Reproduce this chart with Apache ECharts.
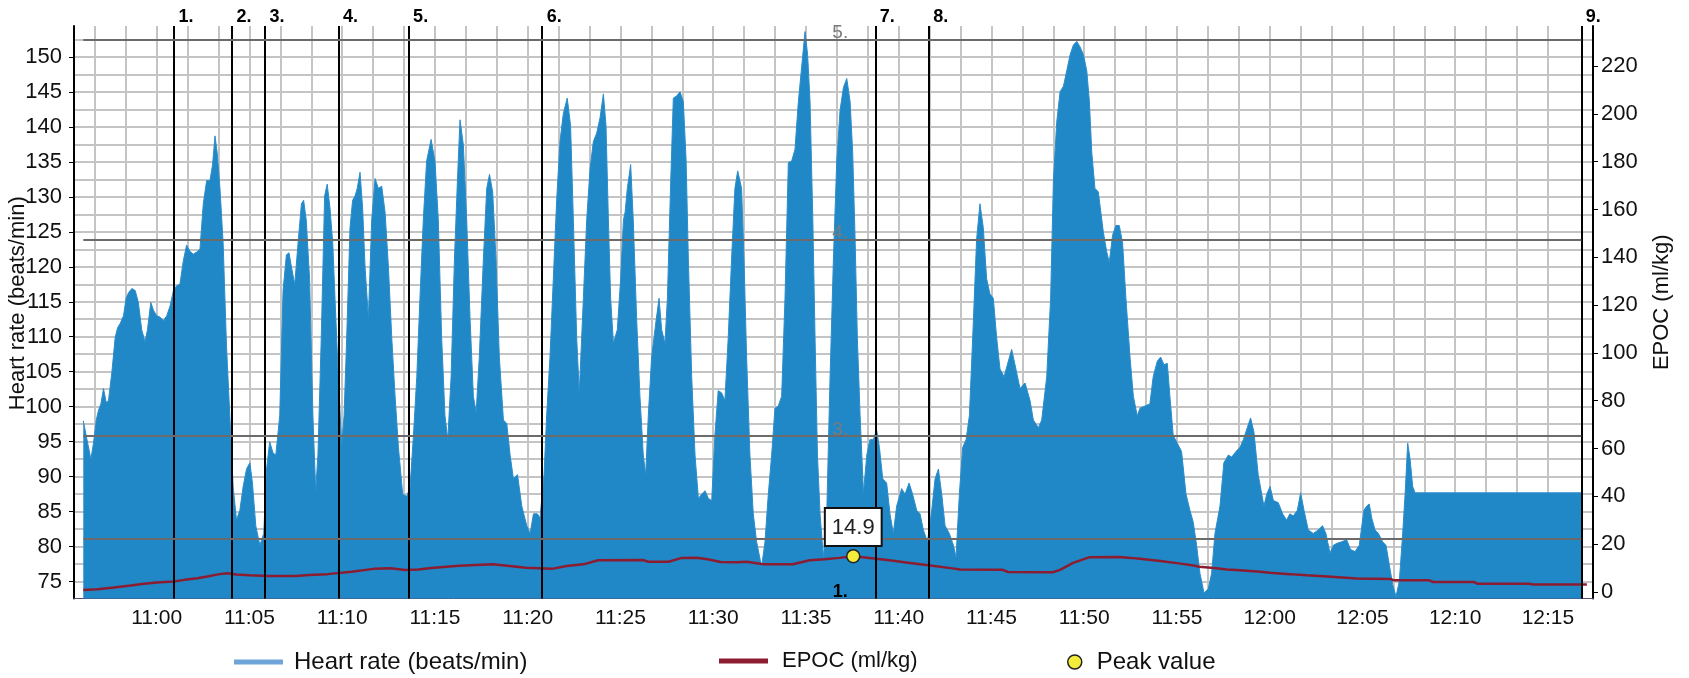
<!DOCTYPE html>
<html>
<head>
<meta charset="utf-8">
<script src="https://cdn.jsdelivr.net/npm/echarts@6.0.0/dist/echarts.min.js"></script>
<style>
html, body { margin: 0; padding: 0; background: #fff; }
#chart { width: 1689px; height: 678px; }
</style>
</head>
<body>
<div id="chart"></div>
<script>
// time is in minutes after 11:00
var hrTime = [-3.96, -3.76, -3.55, -3.41, -3.26, -3.14, -3.01, -2.87, -2.72, -2.60, -2.42, -2.24, -2.11, -1.97, -1.79, -1.65, -1.52, -1.34, -1.16, -0.99, -0.81, -0.63, -0.50, -0.32, -0.18, 0, 0.18, 0.36, 0.54, 0.72, 0.90, 1.08, 1.25, 1.43, 1.61, 1.79, 1.97, 2.15, 2.33, 2.51, 2.69, 2.87, 3.01, 3.14, 3.26, 3.41, 3.58, 3.76, 3.94, 4.12, 4.30, 4.48, 4.66, 4.84, 5.02, 5.16, 5.34, 5.56, 5.65, 5.77, 5.91, 6.09, 6.27, 6.42, 6.63, 6.81, 6.99, 7.13, 7.26, 7.44, 7.62, 7.80, 7.92, 8.06, 8.24, 8.42, 8.57, 8.69, 8.87, 9.05, 9.19,
  9.34, 9.49, 9.61, 9.79, 9.97, 10.10, 10.24, 10.42, 10.56, 10.69, 10.81, 10.96, 11.10, 11.23, 11.41, 11.59, 11.77, 11.95, 12.13, 12.31, 12.49, 12.67, 12.85, 13.03, 13.26, 13.48, 13.66, 13.84, 14.02, 14.19, 14.37, 14.55, 14.79, 15.00, 15.18, 15.36, 15.54, 15.69, 15.87, 16.05, 16.21, 16.35, 16.53, 16.71, 16.89, 17.07, 17.22, 17.39, 17.61, 17.79, 17.94, 18.11, 18.29, 18.47, 18.69, 18.87, 19.05, 19.23, 19.45, 19.68, 19.95, 20.13, 20.31, 20.52, 20.66, 20.88, 21.02, 21.20, 21.38, 21.56, 21.74, 21.92, 22.13, 22.31, 22.46, 22.64, 22.78, 23.00, 23.18,
  23.36, 23.54, 23.72, 23.90, 24.08, 24.22, 24.35, 24.47, 24.62, 24.83, 25.01, 25.16, 25.25, 25.37, 25.55, 25.69, 25.87, 26.05, 26.23, 26.36, 26.50, 26.68, 26.91, 27.08, 27.22, 27.40, 27.53, 27.71, 27.85, 28.03, 28.21, 28.39, 28.54, 28.66, 28.84, 29.02, 29.20, 29.38, 29.56, 29.74, 29.92, 30.09, 30.27, 30.45, 30.63, 30.81, 30.99, 31.17, 31.32, 31.53, 31.66, 31.80, 31.98, 32.16, 32.34, 32.61, 32.79, 32.97, 33.15, 33.33, 33.51, 33.69, 33.87, 34.05, 34.23, 34.41, 34.59, 34.77, 34.95, 35.09, 35.22, 35.37, 35.49, 35.62, 35.76, 35.94, 36.12, 36.30, 36.48, 36.66, 36.84,
  37.02, 37.20, 37.38, 37.52, 37.65, 37.77, 37.92, 38.10, 38.28, 38.45, 38.63, 38.81, 38.96, 39.14, 39.35, 39.53, 39.71, 39.89, 40.16, 40.34, 40.56, 40.75, 40.97, 41.15, 41.33, 41.55, 41.78, 41.96, 42.14, 42.32, 42.50, 42.73, 42.95, 43.09, 43.27, 43.45, 43.63, 43.81, 43.99, 44.20, 44.38, 44.56, 44.74, 44.92, 45.10, 45.28, 45.46, 45.68, 45.91, 46.09, 46.27, 46.54, 46.81, 47.08, 47.26, 47.53, 47.71, 47.98, 48.19, 48.34, 48.52, 48.70, 48.88, 49.06, 49.24, 49.42, 49.60, 49.78, 49.96, 50.14, 50.28, 50.41, 50.58, 50.76,
  51.03, 51.21, 51.35, 51.53, 51.71, 51.89, 52.07, 52.25, 52.47, 52.65, 52.86, 53.01, 53.27, 53.54, 53.72, 53.94, 54.12, 54.30, 54.48, 54.62, 54.80, 55.02, 55.25, 55.49, 55.70, 55.88, 56.06, 56.24, 56.46, 56.69, 56.87, 57.05, 57.32, 57.53, 57.77, 57.95, 58.18, 58.40, 58.58, 58.79, 58.97, 59.15, 59.38, 59.69, 59.84, 60.02, 60.20, 60.46, 60.70, 60.91, 61.09, 61.27, 61.49, 61.67, 61.85, 62.08, 62.35, 62.62, 62.85, 63.03, 63.25, 63.43, 63.64, 63.88, 64.15, 64.36, 64.60, 64.83,
  65.08, 65.23, 65.37, 65.50, 65.68, 65.86, 66.09, 66.27, 66.45, 66.63, 66.81, 66.99, 67.17, 67.30, 67.44, 67.57, 67.71, 67.84, 72.3, 76.8];
var hrBpm = [98.0, 95.3, 92.5, 94.8, 98.1, 99.5, 100.4, 102.6, 100.6, 100.9, 104.9, 109.9, 111.3, 111.9, 113.0, 115.5, 116.3, 116.9, 116.6, 114.9, 111.0, 109.3, 111.0, 114.9, 113.8, 113.0, 112.8, 112.3, 113.0, 114.4, 116.6, 117.3, 117.5, 120.8, 123.1, 122.2, 121.8, 122.1, 122.5, 129.0, 132.3, 132.3, 134.6, 138.7, 136.3, 131.2, 123.4, 108.8, 98.7, 88.6, 83.8, 85.2, 88.6, 91.1, 92.0, 89.1, 83.0, 80.2, 80.2, 81.9, 90.8, 95.0, 93.4, 93.1, 98.7, 116.6, 121.7, 122.0, 120.0, 117.5, 123.4, 129.0, 129.5, 126.7, 118.3, 98.7, 88.0, 93.1, 109.9, 130.1, 131.8,
  128.4, 123.4, 115.5, 104.3, 94.5, 98.7, 109.9, 125.6, 129.5, 130.1, 131.2, 133.5, 128.4, 120.0, 112.7, 126.7, 132.6, 131.2, 131.5, 127.8, 120.0, 109.9, 101.5, 94.2, 87.5, 87.2, 88.6, 95.9, 104.3, 115.5, 126.7, 135.1, 138.2, 135.1, 126.7, 109.9, 98.7, 95.3, 104.3, 121.1, 132.3, 141.0, 137.4, 126.7, 112.7, 101.5, 99.2, 107.1, 121.1, 131.2, 133.2, 130.7, 121.1, 107.1, 98.1, 97.6, 93.1, 89.7, 90.3, 85.8, 83.0, 81.9, 84.7, 84.7, 84.1, 90.3, 98.7, 107.1, 118.3, 129.5, 137.9, 141.9, 144.1, 140.2, 126.7, 109.9, 102.0, 115.5, 126.7,
  134.0, 137.9, 139.1, 141.3, 144.7, 140.2, 126.7, 115.5, 109.1, 111.0, 118.3, 126.7, 127.8, 131.2, 134.6, 126.7, 112.7, 101.5, 93.1, 90.3, 98.7, 107.1, 112.1, 115.5, 111.0, 109.1, 115.5, 132.3, 144.1, 144.4, 145.0, 143.6, 135.1, 121.1, 104.3, 93.1, 86.9, 87.5, 88.0, 86.9, 86.6, 95.9, 102.3, 102.0, 100.9, 109.9, 121.1, 131.2, 133.7, 131.2, 121.1, 107.1, 93.1, 84.7, 80.7, 77.1, 80.7, 87.5, 93.1, 99.8, 100.1, 101.5, 115.5, 134.9, 135.1, 136.8, 143.6, 148.6, 153.6, 150.3, 143.6, 126.7, 109.9, 93.1, 84.7, 78.5, 84.7, 104.3, 121.1, 135.1, 142.4,
  145.6, 146.9, 143.6, 136.3, 123.9, 109.9, 98.7, 87.7, 93.1, 95.3, 95.3, 96.7, 94.2, 89.7, 89.1, 84.7, 81.9, 85.8, 88.3, 87.5, 89.1, 87.5, 85.2, 84.7, 82.4, 80.7, 85.2, 89.7, 91.1, 87.5, 83.0, 81.9, 80.2, 78.5, 87.5, 94.2, 95.3, 98.7, 109.9, 123.9, 129.0, 125.6, 118.3, 116.1, 115.5, 109.9, 105.4, 104.3, 106.5, 108.2, 106.0, 102.6, 103.4, 100.9, 98.1, 97.0, 98.1, 104.3, 115.5, 132.3, 140.7, 145.0, 145.8, 148.0, 150.3, 151.7, 152.2, 151.4, 150.3, 148.0, 143.6, 136.3, 131.2, 130.7,
  125.0, 122.2, 120.6, 124.5, 125.9, 125.9, 123.4, 115.5, 107.1, 101.5, 98.7, 99.8, 100.1, 100.4, 104.3, 106.5, 107.1, 106.0, 106.2, 101.5, 95.9, 94.8, 93.6, 87.5, 85.2, 83.5, 80.2, 76.2, 73.4, 74.0, 76.2, 81.9, 85.8, 92.0, 93.1, 92.8, 93.6, 94.2, 95.3, 97.0, 98.4, 96.4, 90.3, 85.8, 87.5, 88.6, 86.6, 86.3, 84.7, 83.8, 84.7, 84.4, 85.2, 87.7, 85.2, 82.4, 81.9, 82.4, 83.0, 81.9, 79.1, 80.2, 80.5, 80.7, 81.0, 79.6, 79.3, 80.2,
  85.2, 85.8, 86.1, 84.1, 82.4, 81.9, 80.7, 80.2, 77.4, 74.6, 72.9, 75.1, 81.9, 87.5, 94.8, 92.5, 88.6, 87.7, 87.7, 87.7];

var epocTime = [-3.96, -3.2, -2.3, -1.4, -0.8, 0, 0.9, 1.5, 2.2, 2.8, 3.3, 3.8, 4.3, 5.0, 6.0, 7.5, 8.2, 9.2, 10.5, 11.7, 12.6, 13.4, 14.1, 14.8, 16.3, 18.1, 18.9, 19.9, 21.3, 22.1, 23.0, 23.8, 26.2, 26.5, 27.6, 28.3, 29.1, 29.7, 30.4, 31.3, 31.8, 32.7, 34.3, 35.2, 36.0, 36.8, 37.55, 38.3, 38.8, 39.5, 40.4, 41.7, 43.0, 43.3, 45.6, 45.9, 48.3, 48.7, 49.4, 50.3, 51.9, 52.5, 53.0, 54.1, 55.2, 55.9, 56.2, 57.0, 57.7, 58.4, 59.5, 60.0, 61.1, 62.0, 63.1, 64.7, 66.5, 66.7, 68.6, 68.8, 71.0, 71.2, 74.0, 74.2, 77.1];
var epocValue = [0.8, 1.1, 1.8, 2.6, 3.3, 3.9, 4.3, 5.0, 5.7, 6.5, 7.3, 7.8, 7.2, 6.9, 6.6, 6.6, 7.0, 7.4, 8.4, 9.6, 9.9, 9.1, 9.3, 10.0, 10.9, 11.5, 10.9, 10.1, 9.6, 10.8, 11.5, 13.2, 13.3, 12.6, 12.6, 14.2, 14.3, 13.6, 12.5, 12.4, 12.6, 11.5, 11.5, 13.2, 13.6, 14.2, 14.9, 14.3, 13.8, 13.2, 12.3, 11.0, 9.7, 9.3, 9.2, 8.3, 8.2, 9.2, 12.1, 14.5, 14.6, 14.2, 13.8, 12.9, 11.8, 11.0, 10.5, 10.0, 9.3, 9.0, 8.4, 8.0, 7.4, 6.9, 6.4, 5.6, 5.4, 4.8, 4.8, 4.1, 4.1, 3.4, 3.4, 3.1, 3.1];

var peakTime = [37.55];
var peakEpoc = [14.9];

var lapTimes = [0.93, 4.06, 5.84, 9.8, 13.58, 20.78, 38.74, 41.62, 76.8];
var lapNames = ['1.', '2.', '3.', '4.', '5.', '6.', '7.', '8.', '9.'];

var zoneBpm = [152.5, 123.9, 95.8, 81.1, 72.7];
var zoneNames = ['5.', '4.', '3.', '2.', '1.'];

var timeTicks = [0, 5, 10, 15, 20, 25, 30, 35, 40, 45, 50, 55, 60, 65, 70, 75];
var bpmTicks = [75, 80, 85, 90, 95, 100, 105, 110, 115, 120, 125, 130, 135, 140, 145, 150];
var epocTicks = [0, 20, 40, 60, 80, 100, 120, 140, 160, 180, 200, 220];

// grid lines: every 100 s and every 2.5 bpm
var gridTimes = [];
for (var g = 1; g <= 48; g++) gridTimes.push(-5 + g * 5 / 3);
var gridBpm = [];
for (var b = 0; b <= 31; b++) gridBpm.push(75 + b * 2.5);

function clock(t) {
  var h = 11 + Math.floor(t / 60);
  var m = Math.round(t - Math.floor(t / 60) * 60);
  return h + ':' + (m < 10 ? '0' + m : m);
}

var chart = echarts.init(document.getElementById('chart'));

var hrData = hrTime.map(function (t, i) { return [t, hrBpm[i]]; });
var epocData = epocTime.map(function (t, i) { return [t, epocValue[i]]; });
var peakData = peakTime.map(function (t, i) { return [t, peakEpoc[i]]; });
var hrStart = hrTime[0];
var hrEnd = hrTime[hrTime.length - 1];

var lapLines = lapTimes.map(function (t, i) {
  return { xAxis: t, name: lapNames[i] };
});
var zoneLines = zoneBpm.map(function (y, i) {
  var first = { coord: [hrStart, y], name: zoneNames[i] };
  if (i === zoneBpm.length - 1) {
    first.lineStyle = { color: 'rgba(0,0,0,0)' };
    first.label = { color: '#000', fontWeight: 'bold', fontSize: 18 };
  }
  return [first, { coord: [hrEnd, y] }];
});

var gray = '#c4c4c4';

var option = {
  animation: false,
  textStyle: { fontFamily: 'Liberation Sans' },
  grid: { left: 74, right: 96, top: 26, bottom: 79.5, containLabel: false, outerBoundsMode: 'none' },
  legend: [
    {
      left: 229, top: 645, itemWidth: 49, itemHeight: 5,
      textStyle: { fontSize: 24, color: '#111', padding: [0, 0, 0, 6] },
      data: [{ name: 'Heart rate (beats/min)', icon: 'rect', itemStyle: { color: '#6fa4d9' } }]
    },
    {
      left: 714, top: 645, itemWidth: 49, itemHeight: 5,
      textStyle: { fontSize: 22, color: '#111', padding: [0, 0, 0, 9] },
      data: [{ name: 'EPOC (ml/kg)', icon: 'rect', itemStyle: { color: '#8c1c30' } }]
    },
    {
      left: 1062, top: 645, itemWidth: 14, itemHeight: 14,
      textStyle: { fontSize: 24, color: '#111', padding: [0, 0, 0, 10] },
      data: [{ name: 'Peak value', icon: 'circle', itemStyle: { color: '#f4ec3b', borderColor: '#222', borderWidth: 1.5, opacity: 1 } }]
    }
  ],
  xAxis: {
    type: 'value', min: -4.46, max: 77.43,
    axisLine: { onZero: false, lineStyle: { color: '#5b4a78', width: 1 } },
    axisTick: { show: false, customValues: gridTimes },
    axisLabel: { customValues: timeTicks, formatter: clock, fontSize: 21, color: '#111', margin: 9 },
    splitLine: { show: true, lineStyle: { color: gray, width: 2 } }
  },
  yAxis: [
    {
      type: 'value', position: 'left', min: 72.6, max: 154.4,
      name: 'Heart rate (beats/min)', nameLocation: 'middle', nameGap: 45, nameMoveOverlap: false,
      nameTextStyle: { fontSize: 22, color: '#111', padding: [0, 0, 0, 18] },
      axisLine: { show: true, onZero: false, lineStyle: { color: '#000', width: 2 } },
      axisTick: { show: true, length: 5, customValues: bpmTicks, lineStyle: { color: '#000' } },
      axisLabel: { customValues: bpmTicks, fontSize: 22, color: '#111', margin: 12 },
      splitLine: { show: false }
    },
    {
      type: 'value', position: 'right', min: -2.8, max: 236.8,
      name: 'EPOC (ml/kg)', nameLocation: 'middle', nameGap: 58, nameMoveOverlap: false,
      nameTextStyle: { fontSize: 22, color: '#111', padding: [0, 0, 0, 20] },
      axisLine: { show: true, onZero: false, lineStyle: { color: '#000', width: 2 } },
      axisTick: { show: true, length: 5, customValues: epocTicks, lineStyle: { color: '#000' } },
      axisLabel: { customValues: epocTicks, fontSize: 22, color: '#111', margin: 8 },
      splitLine: { show: false }
    },
    {
      type: 'value', position: 'left', min: 72.6, max: 154.4,
      axisLine: { show: false, onZero: false },
      axisTick: { show: false, customValues: gridBpm },
      axisLabel: { show: false },
      splitLine: { show: true, lineStyle: { color: gray, width: 2 } }
    }
  ],
  series: [
    {
      name: 'Heart rate (beats/min)', type: 'line', yAxisIndex: 0, z: 2,
      data: hrData, symbol: 'none',
      lineStyle: { color: '#2b8dcb', width: 1 },
      itemStyle: { color: '#6fa4d9' },
      areaStyle: { color: '#2088c6', opacity: 1 }
    },
    {
      name: 'laps', type: 'line', yAxisIndex: 0, z: 3, data: [],
      markLine: {
        silent: true, symbol: ['none', 'none'], animation: false,
        lineStyle: { color: '#000', width: 2, type: 'solid' },
        label: { show: true, position: 'end', formatter: '{b}', fontWeight: 'bold', fontSize: 18, color: '#000', padding: [0, 0, 0, 24], distance: 0 },
        data: lapLines
      }
    },
    {
      name: 'EPOC (ml/kg)', type: 'line', yAxisIndex: 1, z: 4,
      data: epocData, symbol: 'none',
      lineStyle: { color: '#8c1c30', width: 2.5 },
      itemStyle: { color: '#8c1c30' }
    },
    {
      name: 'Peak value', type: 'scatter', yAxisIndex: 1, z: 5,
      data: peakData, symbol: 'circle', symbolSize: 13,
      itemStyle: { color: '#f4ec3b', borderColor: '#222', borderWidth: 1.5, opacity: 1 },
      label: {
        show: true, position: 'top', distance: 4,
        formatter: function (p) { return p.value[1].toFixed(1); },
        backgroundColor: '#ffffff', borderColor: '#111', borderWidth: 2,
        padding: [8, 6, 6, 6], fontSize: 22, color: '#222'
      }
    },
    {
      name: 'zones', type: 'line', yAxisIndex: 0, z: 6, data: [],
      markLine: {
        silent: true, symbol: ['none', 'none'], animation: false,
        lineStyle: { color: '#6b6b6b', width: 2, type: 'solid' },
        label: { show: true, position: 'insideMiddleTop', formatter: '{b}', fontSize: 19, color: '#7a7a7a', distance: -3, padding: [0, 0, 0, 16] },
        data: zoneLines
      }
    }
  ]
};

chart.setOption(option);
</script>
</body>
</html>
